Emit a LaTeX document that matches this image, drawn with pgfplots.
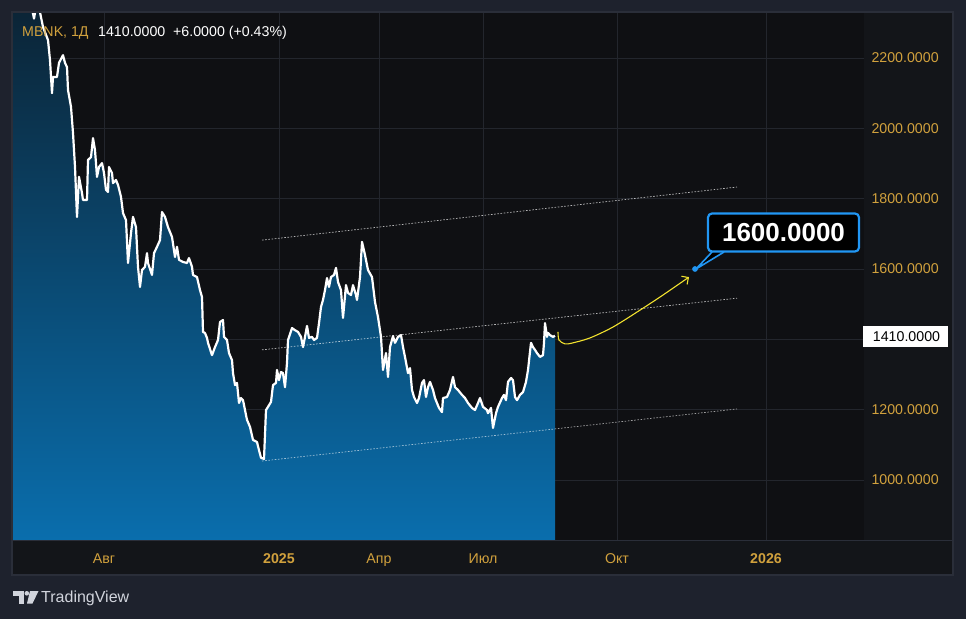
\documentclass[border=0pt]{standalone}
\usepackage{fontspec}
\setmainfont{Liberation Sans}
\usepackage{pgfplots}
\pgfplotsset{compat=1.18}
\usepackage{pgfplotstable}
\usetikzlibrary{arrows.meta}
\definecolor{outerbg}{HTML}{1E222D}
\definecolor{panelbg}{HTML}{131519}
\definecolor{plotbg}{HTML}{0F1013}
\definecolor{gridc}{HTML}{23262D}
\definecolor{borderc}{HTML}{2A2E39}
\definecolor{gold}{HTML}{D1A13D}
\definecolor{filltop}{RGB}{11,30,44}
\definecolor{fillbot}{RGB}{10,110,173}
\definecolor{callblue}{HTML}{2196F3}
\definecolor{arrowyellow}{HTML}{F2E22E}
\definecolor{tvgrey}{HTML}{D1D4DC}

\pgfplotstableread{
x v
12 2460
28 2420
32 2340
34 2312
36 2345
38 2360
40 2330
43 2288
48 2251
50 2194
52 2100
53 2146
57 2146
59 2186
63 2208
65 2186
67 2174
68 2109
71 2061
73 1987
75 1890
77 1748
79 1862
82 1816
83 1796
87 1796
88 1910
91 1918
93 1972
95 1938
97 1862
99 1890
102 1901
104 1873
106 1825
108 1819
109 1890
112 1873
113 1844
116 1853
118 1839
121 1805
123 1759
126 1739
128 1617
131 1702
133 1748
136 1719
138 1606
140 1549
142 1597
145 1606
147 1645
148 1617
152 1583
154 1645
157 1663
160 1682
162 1762
165 1748
168 1719
172 1691
175 1634
177 1663
179 1626
183 1620
187 1617
189 1631
192 1606
193 1583
197 1577
200 1540
202 1520
203 1421
205 1418
207 1404
208 1390
212 1355
215 1378
218 1398
220 1449
223 1455
224 1407
227 1398
229 1361
232 1341
233 1304
235 1270
237 1276
239 1219
241 1233
243 1227
245 1199
247 1171
250 1151
253 1114
257 1108
259 1085
261 1063
264 1060
266 1199
268 1208
271 1222
273 1270
276 1276
277 1313
279 1284
281 1307
283 1304
285 1264
287 1333
288 1398
292 1432
295 1426
298 1421
301 1407
303 1378
305 1407
307 1438
309 1404
312 1407
314 1398
317 1404
319 1446
321 1492
323 1512
325 1540
327 1574
329 1549
331 1577
334 1583
336 1603
338 1563
341 1540
343 1461
346 1554
348 1532
351 1526
353 1554
356 1526
357 1512
360 1577
362 1677
365 1640
368 1597
372 1577
375 1506
378 1463
381 1407
383 1313
386 1361
388 1293
390 1378
393 1409
395 1390
398 1407
401 1412
403 1378
405 1350
408 1304
410 1318
412 1256
414 1236
417 1219
419 1233
422 1276
424 1284
426 1236
428 1264
430 1279
433 1256
435 1233
437 1219
439 1205
442 1193
443 1233
447 1236
450 1256
453 1293
455 1264
458 1256
462 1242
465 1233
468 1219
472 1205
475 1199
478 1219
480 1233
483 1208
487 1199
488 1190
491 1205
493 1148
496 1190
498 1208
502 1233
504 1242
506 1227
508 1279
511 1290
513 1284
515 1236
517 1227
520 1242
523 1250
526 1279
528 1313
531 1390
533 1378
535 1370
537 1361
540 1350
543 1355
544 1390
545 1446
547 1407
548 1418
550 1412
553 1407
555 1410
}\price

\begin{document}
\begin{tikzpicture}[x=1pt,y=1pt]
\fill[outerbg] (0,0) rectangle (966,619);
\fill[panelbg] (12,44) rectangle (953,607);
\begin{axis}[
  at={(12pt,79pt)}, anchor=south west,
  width=852pt, height=528pt, scale only axis,
  xmin=12, xmax=864, ymin=829.4, ymax=2330.7,
  axis background/.style={fill=plotbg},
  axis line style={draw=none},
  xtick={104,279,379,483,617,766},
  xticklabels={Авг,\textbf{2025},Апр,Июл,Окт,\textbf{2026}},
  ytick={1000,1200,1400,1600,1800,2000,2200},
  yticklabels={1000.0000,1200.0000,,1600.0000,1800.0000,2000.0000,2200.0000},
  yticklabel pos=right,
  major tick length=0pt,
  grid=major,
  grid style={gridc, line width=0.8pt},
  tick label style={gold, font=\fontsize{14.2}{16}\selectfont},
  yticklabel style={xshift=4pt},
  xticklabel style={yshift=-10pt},
  clip=true,
]
\addplot[draw=none, top color=filltop, bottom color=fillbot] table[x=x,y=v]{\price} |- (axis cs:12,829.4) -- cycle;
\addplot[white, opacity=0.7, line width=0.7pt, dash pattern=on 1.6pt off 1.6pt] coordinates {(262,1682) (737,1833)};
\addplot[white, opacity=0.7, line width=0.7pt, dash pattern=on 1.6pt off 1.6pt] coordinates {(262,1370) (737,1517)};
\addplot[white, opacity=0.6, line width=0.7pt, dash pattern=on 1.6pt off 1.6pt] coordinates {(262,1054) (737,1202)};
\addplot[white, line width=2.2pt, line join=round] table[x=x,y=v]{\price};
\addplot[arrowyellow, line width=1.1pt, smooth, tension=0.5, -{Straight Barb[length=5pt,width=10pt]}] coordinates {(558,1421) (559,1398) (565,1387) (573,1390) (590,1404) (613,1435) (640,1483) (663,1526) (689,1577)};
\addplot[only marks, mark=*, mark size=2.6pt, callblue] coordinates {(695,1600)};
\end{axis}
% separators and border
\draw[borderc, line width=1pt] (12,79) -- (953,79);
\draw[borderc, line width=1.5pt] (12,44) rectangle (953,607);
% callout
\draw[callblue, line width=1.6pt, fill=black, line join=round] (712,367) -- (696,350) -- (724,367);
\node[draw=callblue, line width=2.2pt, fill=black, rounded corners=4pt, minimum width=151pt, minimum height=38pt, inner sep=0pt, text=white, font=\fontsize{26}{30}\selectfont\bfseries] at (783.5,386.5) {1600.0000};
% price label
\node[fill=white, minimum width=85pt, minimum height=21pt, inner sep=0pt, text=black, font=\fontsize{14.2}{16}\selectfont] at (905.5,282.5) {\hspace*{2pt}1410.0000};
% title
\node[anchor=west, inner sep=0pt, text=gold, font=\fontsize{14.2}{16}\selectfont] at (22,586) {MBNK, 1Д};
\node[anchor=west, inner sep=0pt, text=white, font=\fontsize{14.2}{16}\selectfont] at (98,586) {1410.0000\ \ +6.0000 (+0.43\%)};
% TradingView logo
\fill[tvgrey] (13,28) rectangle (24,23.5);
\fill[tvgrey] (18.5,28) rectangle (24,15.5);
\fill[tvgrey] (26.8,25.7) circle (2.3);
\fill[tvgrey] (30,28) -- (38.5,28) -- (32.5,15.5) -- (27,15.5) -- cycle;
\node[anchor=west, inner sep=0pt, text=tvgrey, font=\fontsize{16}{18}\selectfont] at (41,21) {TradingView};
\end{tikzpicture}
\end{document}
